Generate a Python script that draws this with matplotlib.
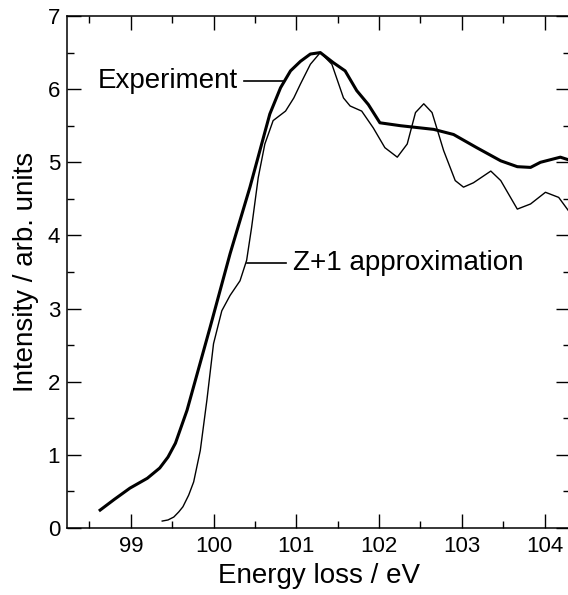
import matplotlib
matplotlib.use("Agg")
import matplotlib.pyplot as plt
from matplotlib.ticker import MultipleLocator

plt.rcParams['font.family'] = ['Liberation Sans', 'DejaVu Sans']

# measured spectrum (thick line)
exp_x = [98.63, 98.8, 98.99, 99.2, 99.35, 99.45, 99.54, 99.68, 99.96, 100.2,
         100.44, 100.68, 100.81, 100.93, 101.05, 101.17, 101.29, 101.45, 101.59,
         101.73, 101.87, 102.01, 102.26, 102.66, 102.9, 103.18, 103.47, 103.67,
         103.83, 103.95, 104.19, 104.3]
exp_y = [0.245, 0.39, 0.545, 0.68, 0.82, 0.97, 1.16, 1.61, 2.75, 3.75,
         4.66, 5.66, 6.02, 6.25, 6.38, 6.48, 6.50, 6.36, 6.25,
         5.98, 5.79, 5.54, 5.50, 5.45, 5.38, 5.20, 5.02, 4.94,
         4.93, 5.0, 5.07, 5.03]

# Z+1 calculation (thin line)
z1_x = [99.38, 99.45, 99.52, 99.58, 99.63, 99.7, 99.76, 99.84, 99.92, 100.0,
        100.1, 100.2, 100.32, 100.4, 100.46, 100.54, 100.62, 100.72, 100.87,
        100.97, 101.05, 101.17, 101.29, 101.43, 101.57, 101.65, 101.79, 101.93,
        102.07, 102.22, 102.34, 102.44, 102.54, 102.64, 102.78, 102.92, 103.02,
        103.14, 103.35, 103.47, 103.67, 103.83, 104.01, 104.17, 104.3]
z1_y = [0.095, 0.11, 0.15, 0.22, 0.29, 0.45, 0.63, 1.06, 1.75, 2.52,
        2.97, 3.18, 3.38, 3.66, 4.11, 4.79, 5.25, 5.57, 5.70,
        5.88, 6.07, 6.34, 6.50, 6.34, 5.88, 5.77, 5.70, 5.47,
        5.20, 5.07, 5.25, 5.68, 5.80, 5.68, 5.16, 4.75, 4.66,
        4.72, 4.88, 4.75, 4.36, 4.43, 4.59, 4.52, 4.32]

fig = plt.figure(figsize=(5.68, 5.95), dpi=100)
ax = fig.add_axes([0.118, 0.1126, 0.886, 0.8605])

ax.plot(exp_x, exp_y, color='black', lw=2.2, solid_joinstyle='round')
ax.plot(z1_x, z1_y, color='black', lw=1.0, solid_joinstyle='round')

ax.set_xlim(98.23, 104.31)
ax.set_ylim(0, 7)
ax.xaxis.set_major_locator(MultipleLocator(1))
ax.xaxis.set_minor_locator(MultipleLocator(0.5))
ax.yaxis.set_major_locator(MultipleLocator(1))
ax.yaxis.set_minor_locator(MultipleLocator(0.5))
ax.tick_params(which='both', direction='in', top=True, right=True, width=1.0, labelsize=16)
ax.tick_params(which='major', length=10)
ax.tick_params(which='minor', length=5)
ax.tick_params(axis='x', pad=6)
ax.tick_params(axis='y', pad=5)
for s in ax.spines.values():
    s.set_linewidth(1.1)

ax.set_xlabel('Energy loss / eV', fontsize=20, labelpad=4)
ax.set_ylabel('Intensity / arb. units', fontsize=20, labelpad=6)

# labels with leader lines
ax.plot([100.37, 100.84], [6.11, 6.11], color='black', lw=1.2)
ax.text(100.29, 6.11, 'Experiment', fontsize=20, ha='right', va='center')
ax.plot([100.4, 100.87], [3.62, 3.62], color='black', lw=1.2)
ax.text(100.96, 3.62, 'Z+1 approximation', fontsize=20, ha='left', va='center')

fig.savefig('out.png', dpi=100)
